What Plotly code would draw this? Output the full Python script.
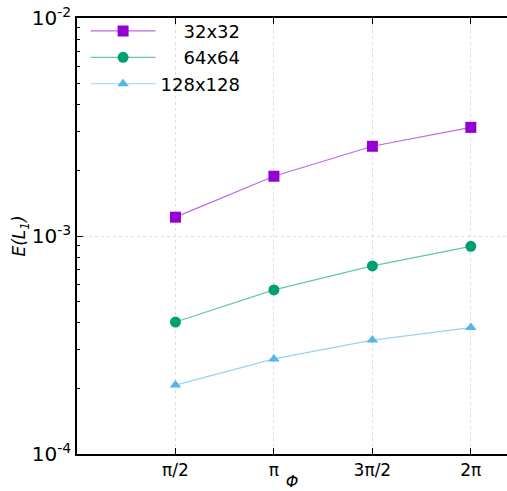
import math
import plotly.graph_objects as go

# Phase angle Φ and L1 error for three grid resolutions
phi = [math.pi / 2, math.pi, 3 * math.pi / 2, 2 * math.pi]
err_32 = [1.22e-3, 1.88e-3, 2.58e-3, 3.15e-3]
err_64 = [4.03e-4, 5.66e-4, 7.29e-4, 8.97e-4]
err_128 = [2.07e-4, 2.73e-4, 3.33e-4, 3.80e-4]

x_tickvals = phi
x_ticktext = ["π/2", "π", "3π/2", "2π"]
y_tickvals = [1e-4, 1e-3, 1e-2]
y_ticktext = ["10<sup>-4</sup>", "10<sup>-3</sup>", "10<sup>-2</sup>"]

series = [
    ("\u2007\u200732x32", err_32, "#9400D3", "rgba(148,0,211,0.6)", "square", 11),
    ("\u2007\u200764x64", err_64, "#009E73", "rgba(0,158,115,0.6)", "circle", 11),
    ("128x128", err_128, "#56B4E9", "rgba(86,180,233,0.6)", "triangle-up", 10),
]

fig = go.Figure()
for name, ys, col, lcol, sym, size in series:
    fig.add_trace(go.Scatter(
        x=phi, y=ys, name=name, mode="lines+markers",
        line=dict(color=lcol, width=1.2),
        marker=dict(symbol=sym, size=size, color=col, line=dict(width=0)),
    ))

axis_font = dict(family="DejaVu Sans", size=17, color="black")

fig.update_layout(
    width=507, height=491,
    margin=dict(l=77, r=0, t=18, b=37, autoexpand=False),
    paper_bgcolor="white", plot_bgcolor="white",
    font=axis_font,
    showlegend=True,
    legend=dict(
        x=0.02, y=1.012, xanchor="left", yanchor="top",
        bgcolor="rgba(0,0,0,0)", font=dict(family="DejaVu Sans", size=18),
        itemwidth=65, tracegroupgap=0,
    ),
    xaxis=dict(
        range=[0, 6.86],
        tickvals=x_tickvals, ticktext=x_ticktext,
        ticks="inside", ticklen=6, tickcolor="black",
        showline=True, linecolor="black", linewidth=1.5, mirror="ticks",
        showgrid=True, gridcolor="#dddddd", griddash="dot", gridwidth=1,
        zeroline=False, automargin=False,
        title=dict(text="<i>Φ</i>", font=dict(family="DejaVu Sans", size=16), standoff=4),
    ),
    yaxis=dict(
        type="log", range=[-4, -2],
        tickvals=y_tickvals, ticktext=y_ticktext,
        ticks="inside", ticklen=6, tickcolor="black",
        minor=dict(ticks="inside", ticklen=3, tickcolor="black", dtick="D1", showgrid=False),
        showline=True, linecolor="black", linewidth=1.5, mirror=False,
        showgrid=True, gridcolor="#dddddd", griddash="dot", gridwidth=1,
        zeroline=False, automargin=False,
        tickfont=dict(family="DejaVu Sans", size=20),
        title=dict(text="<i>E(L<sub>1</sub>)</i>", font=dict(family="DejaVu Sans", size=17), standoff=0),
    ),
)

fig.write_html("out.html")
